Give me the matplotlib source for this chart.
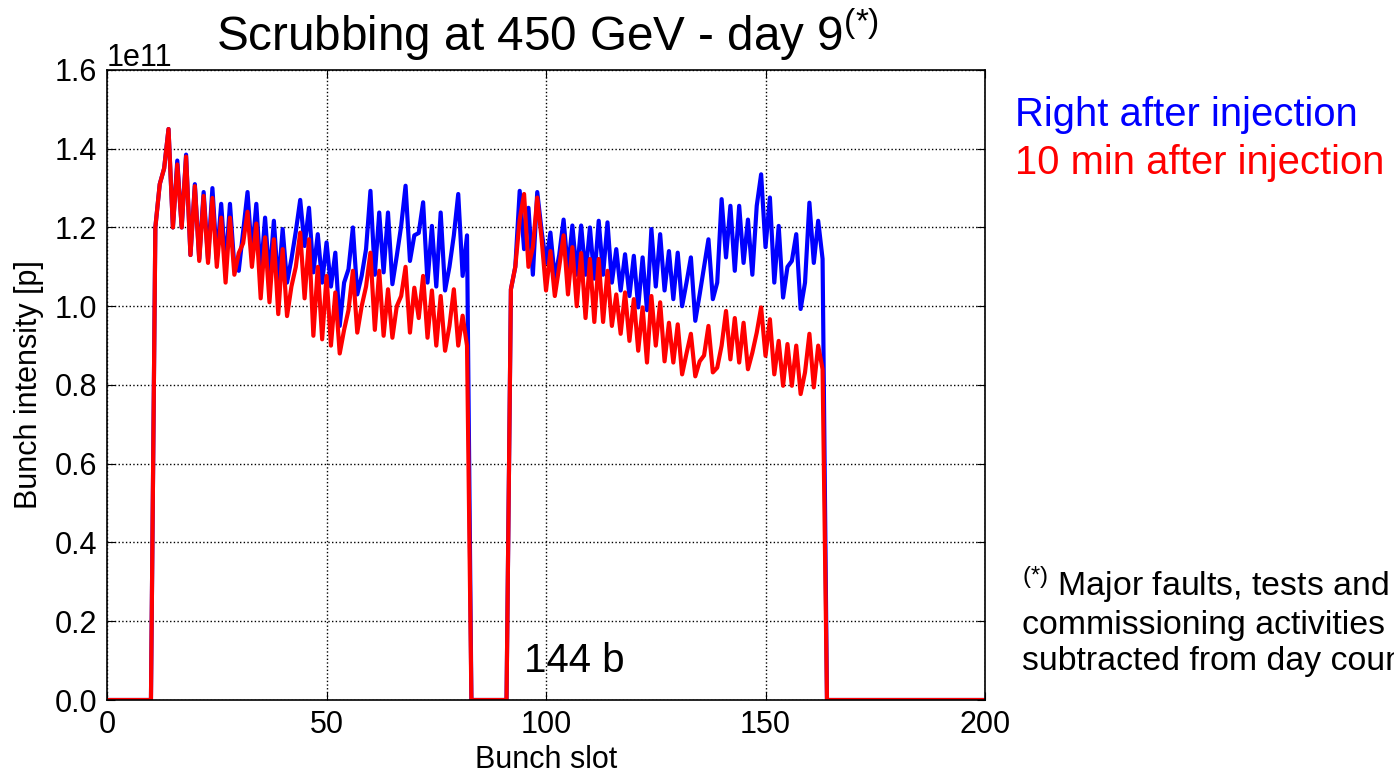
import matplotlib
matplotlib.use('Agg')
import matplotlib.pyplot as plt
import numpy as np

plt.rcParams['font.family'] = ['Liberation Sans', 'DejaVu Sans']
plt.rcParams['mathtext.fontset'] = 'custom'
plt.rcParams['mathtext.rm'] = 'Liberation Sans'
plt.rcParams['mathtext.it'] = 'Liberation Sans'

# bunch slots of the two trains (72 bunches each)
train1_first = 11
train2_first = 92
n_slots = 200

# intensity right after injection [1e11 p]
blue_train1 = [1.20, 1.31, 1.35, 1.45, 1.20, 1.37, 1.20, 1.385, 1.13, 1.31,
               1.12, 1.29, 1.12, 1.30, 1.12, 1.26, 1.10, 1.26, 1.10, 1.09,
               1.19, 1.29, 1.13, 1.26, 1.08, 1.225, 1.07, 1.217, 1.05, 1.196,
               1.06, 1.12, 1.19, 1.27, 1.153, 1.25, 1.086, 1.183, 1.06, 1.162,
               1.05, 1.136, 0.95, 1.06, 1.094, 1.20, 1.03, 1.077, 1.145, 1.293,
               1.08, 1.238, 1.086, 1.238, 1.056, 1.128, 1.204, 1.306, 1.115, 1.18,
               1.186, 1.264, 1.06, 1.204, 1.05, 1.238, 1.04, 1.10, 1.18, 1.285,
               1.077, 1.18]
blue_train2 = [1.043, 1.10, 1.293, 1.145, 1.25, 1.08, 1.29, 1.19, 1.11, 1.187,
               1.07, 1.13, 1.22, 1.09, 1.205, 1.08, 1.205, 1.08, 1.20, 1.07,
               1.217, 1.08, 1.213, 1.06, 1.145, 1.04, 1.132, 1.026, 1.128, 0.997,
               1.124, 0.99, 1.196, 1.05, 1.183, 1.04, 1.14, 1.018, 1.136, 1.00,
               1.06, 1.124, 0.963, 1.03, 1.10, 1.17, 1.018, 1.06, 1.272, 1.124,
               1.255, 1.09, 1.255, 1.11, 1.22, 1.08, 1.255, 1.335, 1.15, 1.276,
               1.06, 1.204, 1.022, 1.10, 1.115, 1.183, 0.993, 1.06, 1.263, 1.11,
               1.217, 1.12]

# intensity 10 min after injection [1e11 p]
red_train1 = [1.20, 1.31, 1.35, 1.45, 1.20, 1.36, 1.20, 1.38, 1.13, 1.305,
              1.115, 1.28, 1.11, 1.275, 1.10, 1.225, 1.06, 1.225, 1.08, 1.135,
              1.16, 1.24, 1.10, 1.21, 1.02, 1.175, 1.01, 1.17, 0.98, 1.145,
              0.975, 1.05, 1.10, 1.187, 1.02, 1.17, 0.925, 1.10, 0.916, 1.077,
              0.90, 1.035, 0.88, 0.94, 0.99, 1.09, 0.933, 1.00, 1.05, 1.136,
              0.94, 1.09, 0.925, 1.043, 0.92, 1.00, 1.026, 1.10, 0.933, 1.047,
              0.97, 1.077, 0.92, 1.04, 0.90, 1.026, 0.887, 0.95, 1.043, 0.90,
              0.976, 0.90]
red_train2 = [1.043, 1.10, 1.22, 1.285, 1.10, 1.15, 1.276, 1.17, 1.04, 1.14,
              1.026, 1.10, 1.18, 1.03, 1.15, 1.00, 1.135, 0.97, 1.12, 0.96,
              1.12, 0.96, 1.09, 0.95, 1.03, 0.93, 1.035, 0.912, 1.018, 0.887,
              0.997, 0.857, 1.026, 0.90, 1.01, 0.86, 0.958, 0.857, 0.954, 0.827,
              0.88, 0.93, 0.822, 0.86, 0.875, 0.95, 0.832, 0.844, 0.90, 0.988,
              0.865, 0.97, 0.857, 0.958, 0.84, 0.882, 0.933, 0.997, 0.874, 0.967,
              0.827, 0.912, 0.798, 0.904, 0.798, 0.90, 0.777, 0.832, 0.93, 0.794,
              0.90, 0.84]


def fill_slots(t1, t2):
    y = np.zeros(n_slots + 1)
    y[train1_first:train1_first + len(t1)] = t1
    y[train2_first:train2_first + len(t2)] = t2
    return y * 1e11


slots = np.arange(n_slots + 1)
blue = fill_slots(blue_train1, blue_train2)
red = fill_slots(red_train1, red_train2)

fig = plt.figure(figsize=(13.94, 7.74), dpi=100)
ax = fig.add_axes([0.0768, 0.0956, 0.6298, 0.814])

ax.plot(slots, blue, color='b', lw=3)
ax.plot(slots, red, color='r', lw=3)

ax.set_xlim(0, 200)
ax.set_ylim(0, 1.6e11)
ax.set_xticks([0, 50, 100, 150, 200])
ax.set_yticks(np.arange(0, 1.61e11, 0.2e11))
ax.grid(True, color='k', linestyle=':', linewidth=1)
ax.tick_params(direction='in', top=True, right=True, labelsize=22, length=6, pad=7)
ax.yaxis.get_offset_text().set_fontsize(22)
for s in ax.spines.values():
    s.set_linewidth(1.2)

ax.set_xlabel('Bunch slot', fontsize=22, labelpad=4)
ax.set_ylabel('Bunch intensity [p]', fontsize=22, labelpad=8)
ax.text(95, 0.1e11, '144 b', fontsize=29, va='center')

fig.text(0.393, 0.955, r'Scrubbing at 450 GeV - day 9$^{\mathrm{(*)}}$',
         fontsize=34.3, ha='center', va='center')

fig.text(0.728, 0.851, 'Right after injection', color='b', fontsize=28.8, va='center')
fig.text(0.728, 0.789, '10 min after injection', color='r', fontsize=28.8, va='center')

fig.text(0.733, 0.198, r'$^{\mathrm{(*)}}$ Major faults, tests and' + '\n'
         'commissioning activities' + '\n' + 'subtracted from day count',
         fontsize=24.4, va='center', linespacing=1.2)

fig.savefig('out.png', dpi=100)
